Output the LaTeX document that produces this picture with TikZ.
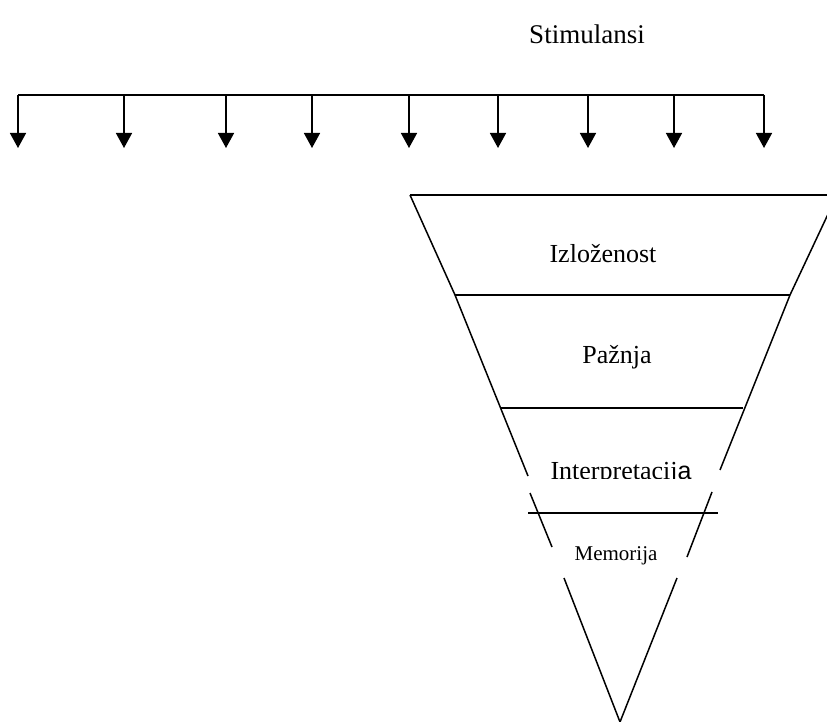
\documentclass[tikz,border=0pt]{standalone}
\usepackage{fontspec}
\setmainfont{Liberation Serif}
\newfontfamily\sansa{Liberation Sans}
\usetikzlibrary{arrows.meta}
\tikzset{
  ln/.style={line width=1.5pt, line cap=butt},
  stim/.style={ln, -{Triangle[length=15pt,width=16pt]}},
  lbl/.style={anchor=base, inner sep=0pt, font=\fontsize{26}{30}\selectfont},
  lblbig/.style={anchor=base, inner sep=0pt, font=\fontsize{27}{32}\selectfont},
  lblsmall/.style={anchor=base, inner sep=0pt, font=\fontsize{21}{25}\selectfont}
}
\begin{document}
\begin{tikzpicture}[x=1pt,y=-1pt]
\useasboundingbox (0,0) rectangle (827,722);
\clip (0,0) rectangle (827,722);
% title
\node[lblbig] (title) at (587,44) {Stimulansi};
% top distribution line and arrows
\foreach \i/\x in {1/18,2/124,3/226,4/312,5/409,6/498,7/588,8/674,9/764}{
  \coordinate (s\i) at (\x,95);
  \coordinate (t\i) at (\x,148);
}
\draw[ln] (s1) -- (s9);
\foreach \i in {1,...,9}{ \draw[stim] (s\i) -- (t\i); }
% funnel coordinates
\coordinate (a1) at (410,195);
\coordinate (a2) at (837,195);
\coordinate (b1) at (455,295);
\coordinate (b2) at (790,295);
\coordinate (c1) at (500,408);
\coordinate (c2) at (743,408);
\coordinate (l3e) at (528,476);
\coordinate (r3e) at (720,470);
\coordinate (l4s) at (530,493);
\coordinate (l4e) at (552,547);
\coordinate (r4s) at (712,492);
\coordinate (r4e) at (687,557);
\coordinate (h4l) at (528,513);
\coordinate (h4r) at (718,513);
\coordinate (v1) at (564,578);
\coordinate (v2) at (677,578);
\coordinate (v0) at (620,722);
% horizontal bands
\draw[ln] (a1) -- (827,195);
\draw[ln] (b1) -- (b2);
\draw[ln] (c1) -- (c2);
\draw[ln] (h4l) -- (h4r);
% sides
\draw[ln] (a1) -- (b1) -- (l3e);
\draw[ln] (a2) -- (b2) -- (r3e);
\draw[ln] (l4s) -- (l4e);
\draw[ln] (r4s) -- (r4e);
\draw[ln] (v1) -- (v0) -- (v2);
% labels
\node[lbl] (izl) at (603,262) {Izloženost};
\node[lbl] (paz) at (617,363) {Pažnja};
\begin{scope}
  \clip (530,440) rectangle (710,478);
  \node[lbl] (int) at (621,479) {Interpretacij{\sansa\fontsize{25}{30}\selectfont a}};
\end{scope}
\node[lblsmall] (mem) at (616,560) {Memorija};
\end{tikzpicture}
\end{document}
